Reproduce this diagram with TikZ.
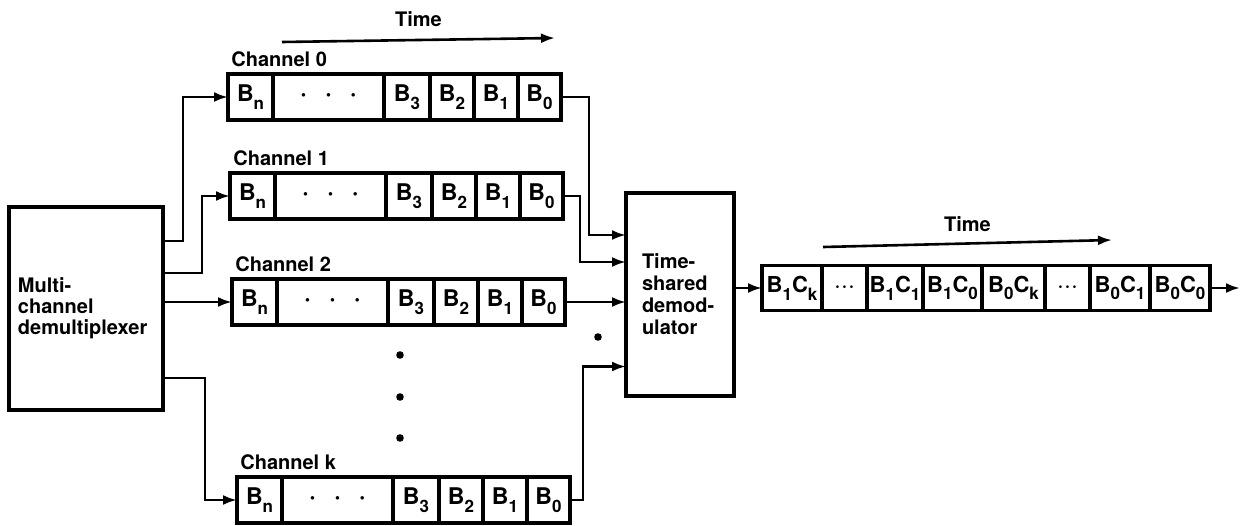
\documentclass[tikz,border=0pt]{standalone}
\usepackage{fontspec}
\setmainfont{TeX Gyre Heros}
\usetikzlibrary{positioning,arrows.meta}
\newcommand{\bsub}[1]{\raisebox{-0.65ex}{\fontsize{8.5}{9}\selectfont #1}}
\newcommand{\chdots}{{\fontsize{7}{7}\selectfont\textbullet\hspace{10pt}\textbullet\hspace{10pt}\textbullet}}
\newcommand{\odots}{{\fontsize{5.5}{5.5}\selectfont\textbullet\hspace{1.6pt}\textbullet\hspace{1.6pt}\textbullet}}
\tikzset{
	cell/.style={draw, line width=1.6pt, outer sep=0pt, inner sep=0pt, minimum height=23pt, font=\fontsize{11.5}{12}\selectfont\bfseries},
	ocell/.style={cell, minimum height=22.5pt, font=\fontsize{11}{12}\selectfont\bfseries},
	unit/.style={draw, line width=1.8pt, outer sep=0pt, align=left, font=\fontsize{10}{10.5}\selectfont\bfseries},
	lbl/.style={inner sep=0pt, font=\fontsize{10}{12}\selectfont\bfseries},
	conn/.style={line width=1.3pt, -{Latex[length=7pt,width=5pt]}},
}
\begin{document}
\begin{tikzpicture}[x=0.5pt,y=-0.5pt]
	\useasboundingbox (0,0) rectangle (1248,525);
	\node[unit, anchor=north west, minimum width=77pt, minimum height=101.5pt, text width=68pt, inner xsep=4.5pt] (dm) at (9,207) {Multi-\\channel\\demultiplexer};
	\node[unit, anchor=north west, minimum width=54pt, minimum height=101.5pt, text width=38pt, inner xsep=8pt, font=\fontsize{10}{11}\selectfont\bfseries] (dd) at (626,193) {Time-\\shared\\demod-\\ulator};
	\foreach \ch/\x/\y in {0/228/97, 1/230/196, 2/232/302, k/237/500} {
		\node[cell, anchor=west, minimum width=22.5pt] (ch\ch-n) at (\x,\y) {B\bsub{n}};
		\node[cell, minimum width=55.5pt, right=0pt of ch\ch-n] (ch\ch-d) {\chdots};
		\node[cell, minimum width=23pt, right=0pt of ch\ch-d] (ch\ch-3) {B\bsub{3}};
		\node[cell, minimum width=22pt, right=0pt of ch\ch-3] (ch\ch-2) {B\bsub{2}};
		\node[cell, minimum width=22pt, right=0pt of ch\ch-2] (ch\ch-1) {B\bsub{1}};
		\node[cell, minimum width=21.5pt, right=0pt of ch\ch-1] (ch\ch-0) {B\bsub{0}};
		\node[lbl, anchor=base west] (lab\ch) at ([xshift=1.5pt,yshift=4pt]ch\ch-n.north west) {Channel \ch};
	}
	\draw[conn] ([yshift=-17pt]dm.north east) -| ([xshift=-22.5pt]ch0-n.west) -- (ch0-n.west);
	\draw[conn] ([yshift=-33pt]dm.north east) -| ([xshift=-14pt]ch1-n.west) -- (ch1-n.west);
	\draw[conn] (dm.east |- ch2-n.west) -- (ch2-n.west);
	\draw[conn] ([yshift=-85.5pt]dm.north east) -| ([xshift=-16pt]chk-n.west) -- (chk-n.west);
	\draw[conn] (ch0-0.east) -- ++(14pt,0) |- ([yshift=29.75pt]dd.west);
	\draw[conn] (ch1-0.east) -- ++(8.5pt,0) |- ([yshift=16.25pt]dd.west);
	\draw[conn] (ch2-0.east) -- (dd.west |- ch2-0.east);
	\draw[conn] (chk-0.east) -- ++(6.5pt,0) |- ([yshift=-36pt]dd.west);
	\fill (400,355) circle (1.9pt);
	\fill (400,397) circle (1.9pt);
	\fill (400,438) circle (1.9pt);
	\fill (598,337) circle (1.9pt);
	\node[ocell, anchor=west, minimum width=30pt] (o1) at (762,288) {B\bsub{1}C\bsub{k}};
	\node[ocell, minimum width=22.5pt, right=0pt of o1] (o2) {\odots};
	\node[ocell, minimum width=28pt, right=0pt of o2] (o3) {B\bsub{1}C\bsub{1}};
	\node[ocell, minimum width=29.5pt, right=0pt of o3] (o4) {B\bsub{1}C\bsub{0}};
	\node[ocell, minimum width=31.5pt, right=0pt of o4] (o5) {B\bsub{0}C\bsub{k}};
	\node[ocell, minimum width=22.5pt, right=0pt of o5] (o6) {\odots};
	\node[ocell, minimum width=30pt, right=0pt of o6] (o7) {B\bsub{0}C\bsub{1}};
	\node[ocell, minimum width=30pt, right=0pt of o7] (o8) {B\bsub{0}C\bsub{0}};
	\draw[conn] (dd.east |- o1.west) -- (o1.west);
	\draw[conn] (o8.east) -- ++(15pt,0) coordinate (out);
	\draw[conn] (282,42) -- node[lbl, above=6pt] (t1) {Time} (555,38);
	\draw[conn] (823,247) -- node[lbl, above=5.5pt] (t2) {Time} (1112,240);
\end{tikzpicture}
\end{document}
